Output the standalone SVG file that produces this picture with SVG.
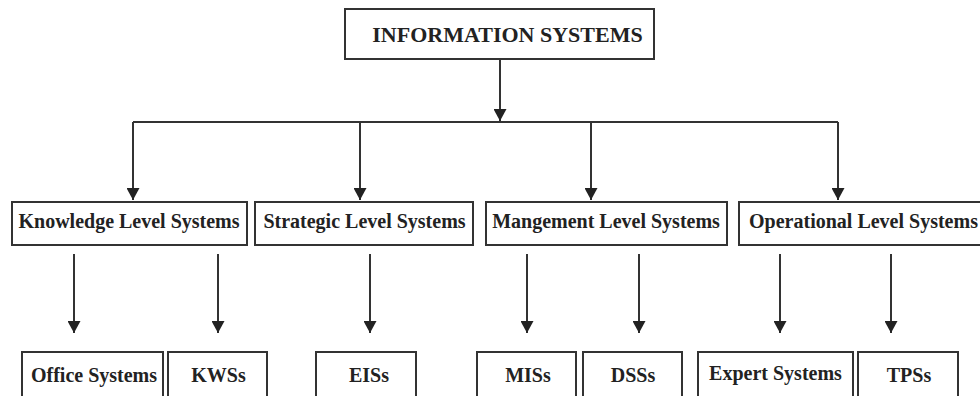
<svg xmlns="http://www.w3.org/2000/svg" width="980" height="396" viewBox="0 0 980 396">
  <defs>
    <marker id="arrow" markerWidth="13" markerHeight="13" refX="12" refY="6.5" orient="auto" markerUnits="userSpaceOnUse">
      <path d="M0,0 L12,6.5 L0,13 Z" fill="#222"/>
    </marker>
  </defs>
  <style>
    .box { fill: #fff; stroke: #333; stroke-width: 2; }
    .lbl { font-family: "Liberation Serif", "Times New Roman", serif; font-weight: bold; font-size: 20px; fill: #222; text-anchor: middle; }
    .title { font-size: 22px; }
    .wire { fill: none; stroke: #333; stroke-width: 2; }
  </style>
  <rect width="980" height="396" fill="#fff"/>

  <!-- connectors -->
  <g id="connectors">
    <path class="wire" d="M500,59 V121" marker-end="url(#arrow)"/>
    <path class="wire" d="M133,122 H838"/>
    <path class="wire" d="M133,122 V200" marker-end="url(#arrow)"/>
    <path class="wire" d="M360,122 V200" marker-end="url(#arrow)"/>
    <path class="wire" d="M591,122 V200" marker-end="url(#arrow)"/>
    <path class="wire" d="M838,122 V200" marker-end="url(#arrow)"/>
    <path class="wire" d="M74,254 V333" marker-end="url(#arrow)"/>
    <path class="wire" d="M218,254 V333" marker-end="url(#arrow)"/>
    <path class="wire" d="M370,254 V333" marker-end="url(#arrow)"/>
    <path class="wire" d="M527,254 V333" marker-end="url(#arrow)"/>
    <path class="wire" d="M639,254 V333" marker-end="url(#arrow)"/>
    <path class="wire" d="M780,254 V333" marker-end="url(#arrow)"/>
    <path class="wire" d="M891,254 V333" marker-end="url(#arrow)"/>
  </g>

  <!-- root -->
  <g id="information-systems">
    <rect class="box" x="345" y="9" width="309" height="50"/>
    <text class="lbl title" x="507.5" y="42">INFORMATION SYSTEMS</text>
  </g>

  <!-- level systems -->
  <g id="knowledge-level">
    <rect class="box" x="12" y="202" width="235" height="43"/>
    <text class="lbl" x="129" y="228">Knowledge Level Systems</text>
  </g>
  <g id="strategic-level">
    <rect class="box" x="255" y="202" width="218" height="43"/>
    <text class="lbl" x="364.5" y="228">Strategic Level Systems</text>
  </g>
  <g id="management-level">
    <rect class="box" x="486" y="202" width="241" height="43"/>
    <text class="lbl" x="606" y="228">Mangement Level Systems</text>
  </g>
  <g id="operational-level">
    <rect class="box" x="739" y="202" width="260" height="43"/>
    <text class="lbl" x="863.5" y="228">Operational Level Systems</text>
  </g>

  <!-- system types -->
  <g id="office-systems">
    <rect class="box" x="22" y="352" width="141" height="60"/>
    <text class="lbl" x="94" y="382">Office Systems</text>
  </g>
  <g id="kwss">
    <rect class="box" x="168" y="352" width="99" height="60"/>
    <text class="lbl" x="218.5" y="382">KWSs</text>
  </g>
  <g id="eiss">
    <rect class="box" x="316" y="352" width="100" height="60"/>
    <text class="lbl" x="369" y="382">EISs</text>
  </g>
  <g id="miss">
    <rect class="box" x="477" y="352" width="99" height="60"/>
    <text class="lbl" x="528" y="382">MISs</text>
  </g>
  <g id="dsss">
    <rect class="box" x="583" y="352" width="99" height="60"/>
    <text class="lbl" x="633" y="382">DSSs</text>
  </g>
  <g id="expert-systems">
    <rect class="box" x="698" y="352" width="155" height="60"/>
    <text class="lbl" x="775.5" y="380">Expert Systems</text>
  </g>
  <g id="tpss">
    <rect class="box" x="858" y="352" width="100" height="60"/>
    <text class="lbl" x="909" y="382">TPSs</text>
  </g>
</svg>
